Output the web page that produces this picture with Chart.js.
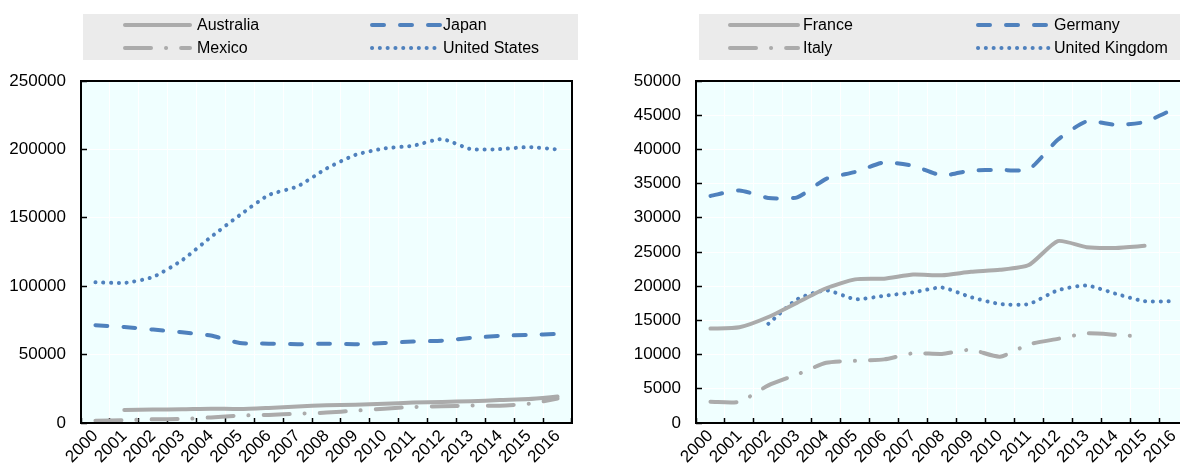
<!DOCTYPE html>
<html>
<head>
<meta charset="utf-8">
<script src="https://cdn.jsdelivr.net/npm/chart.js@4.4.0/dist/chart.umd.min.js"></script>
<style>
  html, body { margin: 0; padding: 0; background: #fff; overflow: hidden; }
  #wrap { position: relative; width: 1180px; height: 463px; overflow: hidden; }
  #chartLeft { position: absolute; left: 0; top: 0; }
  #chartRight { position: absolute; left: 600px; top: 0; }
</style>
</head>
<body>
<div id="wrap">
  <canvas id="chartLeft" width="590" height="463"></canvas>
  <canvas id="chartRight" width="600" height="463"></canvas>
</div>
<script>
// années
var years = ["2000", "2001", "2002", "2003", "2004", "2005", "2006", "2007", "2008",
             "2009", "2010", "2011", "2012", "2013", "2014", "2015", "2016"];

// graphique de gauche
var australia = [null, 9500, 9800, 10000, 10500, 10200, 11000, 12000, 13000, 13400, 14100, 14900, 15400, 15900, 16800, 17500, 19300];
var japan = [71500, 70200, 68300, 66300, 63900, 58500, 58000, 57600, 58000, 57600, 58500, 59500, 60200, 62200, 63700, 64400, 65100];
var mexico = [1700, 2000, 2700, 2900, 4100, 5400, 5900, 6800, 7600, 9000, 10500, 11700, 12200, 12700, 12700, 14000, 17800];
var unitedStates = [102900, 102400, 106800, 119000, 136000, 152000, 166600, 173000, 186000, 196000, 200700, 202700, 207500, 200200, 200200, 201700, 200000];

// graphique de droite
var france = [13800, 14000, 15500, 17600, 19700, 21000, 21100, 21700, 21600, 22100, 22400, 23100, 26600, 25700, 25600, 25900, null];
var germany = [33200, 34000, 32900, 33000, 35700, 36700, 38100, 37600, 36200, 36900, 37000, 37100, 41400, 44100, 43600, 44000, 45900];
var italy = [3100, 3100, 5500, 7100, 8800, 9100, 9300, 10200, 10100, 10700, 9700, 11500, 12300, 13100, 12900, 12600, null];
var unitedKingdom = [null, null, 14500, 18100, 19400, 18100, 18600, 19100, 19800, 18400, 17400, 17400, 19400, 20100, 18900, 17800, 17800];

var GREY = "#ABABAB";
var BLUE = "#4F81BD";
var FONT = "'Liberation Sans', Arial, sans-serif";

// styles de ligne
var solid = [];
var dashed = [12, 16];
var dashDot = [26, 15, 0.1, 15];
var dotted = [0.1, 7.7];

function serie(label, data, color, dash, width) {
    return {
        label: label,
        data: data,
        borderColor: color,
        backgroundColor: color,
        borderWidth: width,
        borderDash: dash,
        borderCapStyle: "round",
        borderJoinStyle: "round",
        pointRadius: 0,
        tension: 0.2,
        fill: false
    };
}

// fond et cadre de la zone du graphique
var plotFrame = {
    id: "plotFrame",
    beforeDraw: function(chart) {
        var a = chart.chartArea, ctx = chart.ctx;
        ctx.save();
        ctx.fillStyle = "#F0FFFF";
        ctx.fillRect(a.left, a.top, a.right - a.left, a.bottom - a.top);
        ctx.restore();
    },
    afterDraw: function(chart) {
        var a = chart.chartArea, ctx = chart.ctx;
        ctx.save();
        ctx.strokeStyle = "#000";
        ctx.lineWidth = 2;
        ctx.strokeRect(a.left, a.top, a.right - a.left, a.bottom - a.top);
        ctx.restore();
    }
};

// légende dans une boîte grise, deux colonnes
var boxLegend = {
    id: "boxLegend",
    afterDraw: function(chart, args, opts) {
        var ctx = chart.ctx;
        ctx.save();
        ctx.fillStyle = "#EBEBEB";
        ctx.fillRect(opts.box[0], opts.box[1], opts.box[2], opts.box[3]);
        chart.data.datasets.forEach(function(ds, i) {
            var col = opts.cols[i % 2];
            var y = opts.rows[Math.floor(i / 2)];
            ctx.beginPath();
            ctx.setLineDash(ds.borderDash);
            ctx.lineCap = "round";
            ctx.lineWidth = ds.borderWidth;
            ctx.strokeStyle = ds.borderColor;
            ctx.moveTo(col[0], y);
            ctx.lineTo(col[1], y);
            ctx.stroke();
            ctx.setLineDash([]);
            ctx.fillStyle = "#000";
            ctx.font = "16px " + FONT;
            ctx.textBaseline = "middle";
            ctx.textAlign = "left";
            ctx.fillText(ds.label, col[2], y + 1);
        });
        ctx.restore();
    }
};

function makeOptions(yMax, yStep, yWidth, padRight, legend) {
    return {
        responsive: false,
        animation: false,
        devicePixelRatio: 1,
        layout: { padding: { top: 81, right: padRight, left: 0, bottom: 0 } },
        plugins: {
            legend: { display: false },
            tooltip: { enabled: false },
            boxLegend: legend
        },
        scales: {
            x: {
                offset: true,
                grid: { offset: true, color: "#fff", lineWidth: 1, tickColor: "#000", tickLength: -5, tickWidth: 1.5 },
                border: { display: false },
                ticks: { color: "#000", font: { family: FONT, size: 17 }, minRotation: 45, maxRotation: 45, autoSkip: false, padding: 8 },
                afterFit: function(s) { s.height = 40; }
            },
            y: {
                min: 0,
                max: yMax,
                grid: { color: "#fff", lineWidth: 1, tickColor: "#000", tickLength: -6, tickWidth: 1.5 },
                border: { display: false },
                ticks: { stepSize: yStep, color: "#000", font: { family: FONT, size: 17 }, padding: 21,
                         callback: function(v) { return v; } },
                afterFit: function(s) { s.width = yWidth; }
            }
        }
    };
}

new Chart("chartLeft", {
    type: "line",
    data: {
        labels: years,
        datasets: [
            serie("Australia", australia, GREY, solid, 4),
            serie("Japan", japan, BLUE, dashed, 4),
            serie("Mexico", mexico, GREY, dashDot, 4),
            serie("United States", unitedStates, BLUE, dotted, 4)
        ]
    },
    options: makeOptions(250000, 50000, 81, 18, {
        box: [83, 14, 495, 46],
        cols: [[125, 190, 197], [372, 440, 443]],
        rows: [25, 48]
    }),
    plugins: [plotFrame, boxLegend]
});

new Chart("chartRight", {
    type: "line",
    data: {
        labels: years,
        datasets: [
            serie("France", france, GREY, solid, 4),
            serie("Germany", germany, BLUE, dashed, 4),
            serie("Italy", italy, GREY, dashDot, 4),
            serie("United Kingdom", unitedKingdom, BLUE, dotted, 4)
        ]
    },
    options: makeOptions(50000, 5000, 96, 12, {
        box: [99, 14, 501, 46],
        cols: [[130, 198, 203], [378, 449, 454]],
        rows: [25, 48]
    }),
    plugins: [plotFrame, boxLegend]
});
</script>
</body>
</html>
